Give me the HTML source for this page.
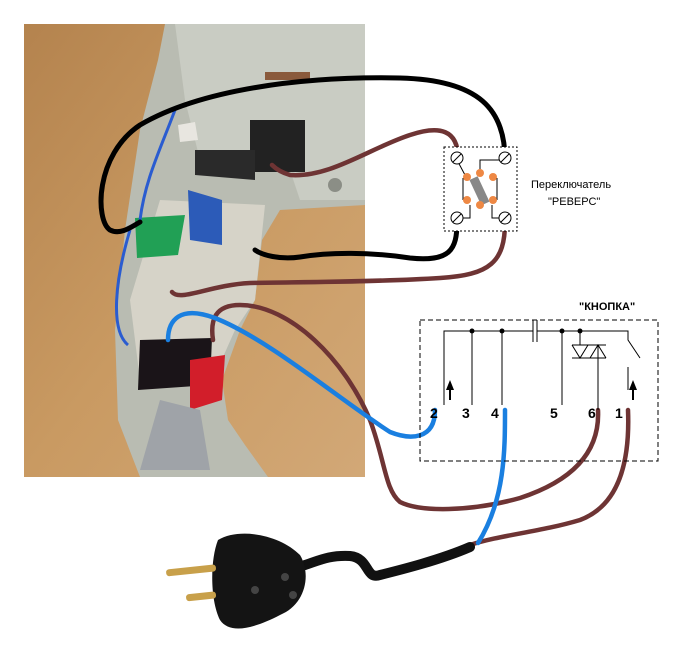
<!DOCTYPE html>
<html><head><meta charset="utf-8"><style>
html,body{margin:0;padding:0;background:#fff;width:680px;height:662px;overflow:hidden}
svg{display:block}
text{font-family:"Liberation Sans","Noto Sans CJK SC",sans-serif}
</style></head><body>
<svg width="680" height="662" viewBox="0 0 680 662" xmlns="http://www.w3.org/2000/svg">
<defs>
<linearGradient id="wood" x1="0" y1="0" x2="1" y2="1">
<stop offset="0" stop-color="#b4834e"/><stop offset="0.5" stop-color="#c99a62"/><stop offset="1" stop-color="#d2a877"/>
</linearGradient>
</defs>
<rect x="24" y="24" width="341" height="453" fill="url(#wood)"/>
<path d="M165,24 L365,24 L365,205 L280,210 L262,240 L255,300 L240,330 L222,380 L228,420 L245,445 L268,477 L140,477 L118,420 L115,330 L125,230 L140,130 L158,60 Z" fill="#b9bcb2"/>
<path d="M175,24 L365,24 L365,200 L300,200 L290,170 L200,160 L185,100 Z" fill="#c9ccc3"/>
<path d="M160,200 L265,205 L255,300 L235,330 L215,375 L140,380 L130,300 Z" fill="#d6d3c8"/>
<rect x="250" y="120" width="55" height="52" fill="#222"/>
<rect x="265" y="72" width="45" height="8" fill="#8a5a3c"/>
<circle cx="335" cy="185" r="7" fill="#8b8e86"/>
<path d="M135,218 L185,215 L178,255 L137,258 Z" fill="#21a055"/>
<path d="M188,190 L222,200 L222,245 L190,240 Z" fill="#2c5bb8"/>
<path d="M140,340 L212,338 L210,385 L138,390 Z" fill="#1a1418"/>
<path d="M190,360 L225,355 L222,400 L190,410 Z" fill="#d21e2a"/>
<path d="M160,400 L200,410 L210,470 L140,470 Z" fill="#9fa3a8"/>
<path d="M195,150 L255,150 L255,180 L195,175 Z" fill="#2a2a2a"/>
<path d="M178,125 L195,122 L198,140 L180,142Z" fill="#e8e6e0"/>
<path d="M130,230 C115,280 110,330 128,345 M175,110 C160,150 145,180 140,220" stroke="#2a5cd0" stroke-width="3" fill="none"/>
<g fill="none" stroke-linecap="round" stroke-linejoin="round">
<path d="M505,160 C505,110 480,80 400,78 C300,76 200,90 140,125 C95,155 95,220 110,230 C120,235 130,228 140,222" stroke="#000" stroke-width="5"/>
<path d="M457,222 C457,250 450,262 410,258 C370,252 330,252 300,257 C280,260 262,255 255,250" stroke="#000" stroke-width="5"/>
<path d="M458,158 C458,130 440,125 410,135 C370,148 330,178 290,175 C280,172 275,168 272,165" stroke="#6e3434" stroke-width="4.5"/>
<path d="M505,222 C505,262 490,275 440,278 C380,282 300,282 250,283 C210,285 180,302 172,292" stroke="#6e3434" stroke-width="4.5"/>
<path d="M213,340 C210,320 215,305 240,305 C290,305 345,360 370,420 C385,460 385,490 400,502 C420,512 470,512 520,498 C575,480 600,450 598,410" stroke="#6e3434" stroke-width="4.5"/>
<path d="M628,410 C630,460 620,505 580,520 C540,532 500,535 470,545" stroke="#6e3434" stroke-width="4.5"/>
<path d="M435,410 C435,440 410,440 390,432 C340,400 270,340 215,318 C180,305 168,320 168,340" stroke="#1a7fe0" stroke-width="4.5"/>
<path d="M505,410 C505,450 505,500 478,543" stroke="#1a7fe0" stroke-width="4.5"/>
<path d="M470,547 C440,560 400,570 380,575 C365,580 370,558 350,556 C330,555 320,560 305,565" stroke="#111" stroke-width="10"/>
</g>
<path d="M218,540 C240,527 280,535 300,555 C312,575 305,605 280,615 C255,628 230,635 220,620 C210,600 210,560 218,540Z" fill="#141414"/>
<circle cx="285" cy="577" r="4" fill="#444"/><circle cx="255" cy="590" r="4" fill="#444"/><circle cx="293" cy="595" r="4" fill="#444"/>
<rect x="166" y="567" width="50" height="7" rx="3" fill="#c8a04a" transform="rotate(-6 190 570)"/>
<rect x="186" y="593" width="30" height="7" rx="3" fill="#c8a04a" transform="rotate(-6 200 596)"/>
<rect x="444" y="147" width="73" height="84" fill="#fff" stroke="#000" stroke-dasharray="2,2"/>
<g stroke="#000" fill="none" stroke-width="1">
<path d="M457,160 L465,175 M505,160 L480,160 L480,172 M457,218 L470,218 L470,205 M505,218 L492,218 L492,205 M463,178 L463,200 M497,178 L497,200"/>
</g>
<g stroke="#000" fill="#fff"><circle cx="457" cy="158" r="6"/><circle cx="505" cy="158" r="6"/><circle cx="457" cy="218" r="6"/><circle cx="505" cy="218" r="6"/></g>
<g stroke="#000" stroke-width="1"><path d="M453,162 L461,154 M501,162 L509,154 M453,222 L461,214 M501,222 L509,214"/></g>
<rect x="475" y="177" width="9" height="28" fill="#888" transform="rotate(-25 479 191)"/>
<g fill="#ee8844"><circle cx="467" cy="177" r="4"/><circle cx="480" cy="173" r="4"/><circle cx="493" cy="177" r="4"/><circle cx="467" cy="200" r="4"/><circle cx="480" cy="205" r="4"/><circle cx="493" cy="200" r="4"/></g>
<text x="531" y="188" font-size="11">Переключатель</text>
<text x="548" y="205" font-size="11">"РЕВЕРС"</text>
<text x="579" y="310" font-size="11" font-weight="bold">"КНОПКА"</text>
<rect x="420" y="320" width="238" height="141" fill="none" stroke="#000" stroke-dasharray="5,3"/>
<g stroke="#000" fill="none" stroke-width="1">
<path d="M444,405 L444,331 L533,331 M537,331 L628,331 L628,340 L640,358 M628,367 L628,390 M472,331 L472,405 M502,331 L502,405 M562,331 L562,405 M580,331 L580,345 M598,345 L598,410 M533,320 L533,342 M537,320 L537,342"/>
<path d="M572,345 L606,345 M572,358 L606,358 M572,345 L580,358 L588,345 M590,358 L598,345 L606,358"/>
</g>
<g fill="#000"><circle cx="472" cy="331" r="2.5"/><circle cx="502" cy="331" r="2.5"/><circle cx="562" cy="331" r="2.5"/><circle cx="580" cy="331" r="2.5"/></g>
<path d="M450,400 L450,388" stroke="#000" stroke-width="2"/><path d="M446,390 L450,380 L454,390Z" fill="#000"/>
<path d="M633,400 L633,388" stroke="#000" stroke-width="2"/><path d="M629,390 L633,380 L637,390Z" fill="#000"/>
<g font-size="14" font-weight="bold"><text x="430" y="418">2</text><text x="462" y="418">3</text><text x="491" y="418">4</text><text x="550" y="418">5</text><text x="588" y="418">6</text><text x="615" y="418">1</text></g>
</svg>
</body></html>
